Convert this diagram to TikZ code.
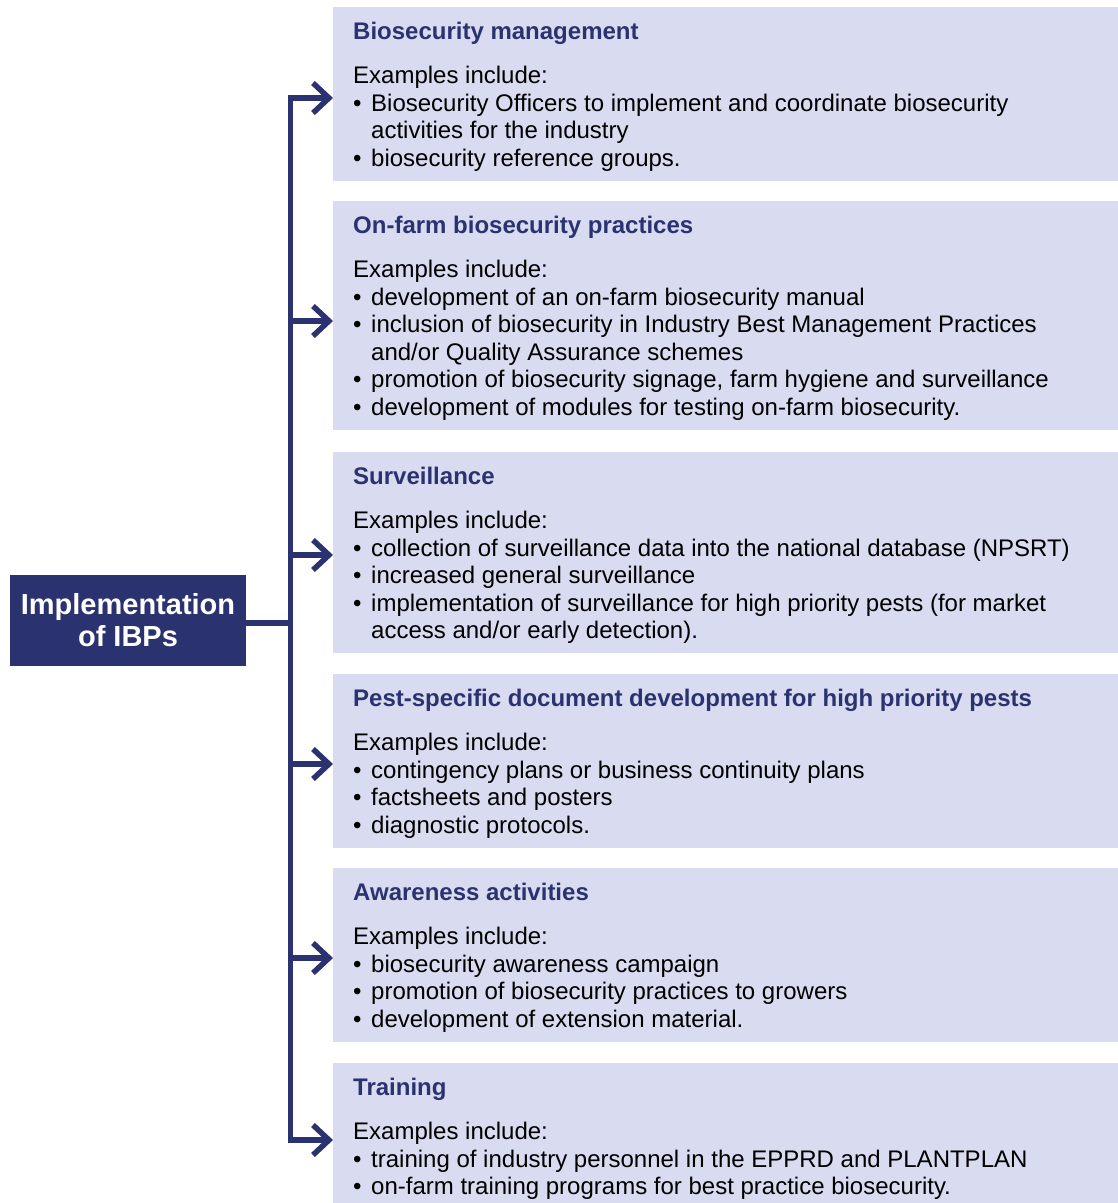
\documentclass[tikz,border=0pt]{standalone}
\usepackage{fontspec}
\setmainfont{Liberation Sans}
\usetikzlibrary{arrows.meta}
\definecolor{navy}{RGB}{43,50,112}
\definecolor{boxfill}{RGB}{217,219,240}
\newcommand\fz{\fontsize{24}{27.7}\selectfont}
\tikzset{
  box/.style={fill=boxfill, draw=none, inner sep=0pt, anchor=north west, minimum width=785pt},
  ttl/.style={anchor=base west, inner sep=0pt, font=\fz\bfseries, text=navy, yshift=1pt, xshift=-1pt},
  txt/.style={anchor=base west, inner sep=0pt, font=\fz, text=black, yshift=1pt, xshift=-1pt},
  conn/.style={draw=navy, line width=5.5pt},
  arr/.style={conn, -{Straight Barb[length=16pt,width=30pt,line width=5.5pt]}},
  rootbox/.style={fill=navy, draw=none, inner sep=0pt, anchor=north west, minimum width=236pt, minimum height=91pt},
  roottxt/.style={anchor=base, inner sep=0pt, font=\fontsize{29}{32}\selectfont\bfseries, text=white}
}
\newcommand\ex[2]{\node[txt] (#1) at (354,#2) {Examples include:};}
\newcommand\bul[3]{\node[txt] (#1d) at (354,#2) {•};\node[txt] (#1) at (372,#2) {#3};}
\newcommand\cont[3]{\node[txt] (#1) at (372,#2) {#3};}
\begin{document}
\begin{tikzpicture}[x=1pt,y=-1pt]
\useasboundingbox (0,0) rectangle (1118,1203);
% root
\node[rootbox] (root) at (10,575) {};
\node[roottxt] (rootA) at (128,614) {Implementation};
\node[roottxt] (rootB) at (128,646) {of IBPs};
% boxes
\node[box, minimum height=174pt] (b1) at (333,7) {};
\node[box, minimum height=229pt] (b2) at (333,201) {};
\node[box, minimum height=201pt] (b3) at (333,452) {};
\node[box, minimum height=174pt] (b4) at (333,674) {};
\node[box, minimum height=174pt] (b5) at (333,868) {};
\node[box, minimum height=140pt] (b6) at (333,1063) {};
% box 1
\node[ttl] (t1) at (354,40) {Biosecurity management};
\ex{e1}{84}
\bul{l1a}{112}{Biosecurity Officers to implement and coordinate biosecurity}
\cont{l1b}{139.5}{activities for the industry}
\bul{l1c}{167}{biosecurity reference groups.}
% box 2
\node[ttl] (t2) at (354,234) {On-farm biosecurity practices};
\ex{e2}{278}
\bul{l2a}{306}{development of an on-farm biosecurity manual}
\bul{l2b}{333.5}{inclusion of biosecurity in Industry Best Management Practices}
\cont{l2c}{361}{and/or Quality Assurance schemes}
\bul{l2d}{388.5}{promotion of biosecurity signage, farm hygiene and surveillance}
\bul{l2e}{416}{development of modules for testing on-farm biosecurity.}
% box 3
\node[ttl] (t3) at (354,485) {Surveillance};
\ex{e3}{529}
\bul{l3a}{557}{collection of surveillance data into the national database (NPSRT)}
\bul{l3b}{584.5}{increased general surveillance}
\bul{l3c}{612}{implementation of surveillance for high priority pests (for market}
\cont{l3d}{639.5}{access and/or early detection).}
% box 4
\node[ttl] (t4) at (354,707) {Pest-specific document development for high priority pests};
\ex{e4}{751}
\bul{l4a}{779}{contingency plans or business continuity plans}
\bul{l4b}{806.5}{factsheets and posters}
\bul{l4c}{834}{diagnostic protocols.}
% box 5
\node[ttl] (t5) at (354,901) {Awareness activities};
\ex{e5}{945}
\bul{l5a}{973}{biosecurity awareness campaign}
\bul{l5b}{1000.5}{promotion of biosecurity practices to growers}
\bul{l5c}{1028}{development of extension material.}
% box 6
\node[ttl] (t6) at (354,1096) {Training};
\ex{e6}{1140}
\bul{l6a}{1168}{training of industry personnel in the EPPRD and PLANTPLAN}
\bul{l6b}{1195.5}{on-farm training programs for best practice biosecurity.}
% connectors
\coordinate (s1) at (290.5,98);
\coordinate (s2) at (290.5,321);
\coordinate (s3) at (290.5,555);
\coordinate (s4) at (290.5,764);
\coordinate (s5) at (290.5,958);
\coordinate (s6) at (290.5,1140);
\coordinate (sr) at (290.5,623);
\draw[conn, line cap=rect] (s1) -- (s6);
\draw[conn] (root.east |- sr) -- (sr);
\foreach \i in {1,...,6} {
  \draw[arr] ([xshift=-2.75pt]s\i) -- (b\i.west |- s\i);
}
\end{tikzpicture}
\end{document}
